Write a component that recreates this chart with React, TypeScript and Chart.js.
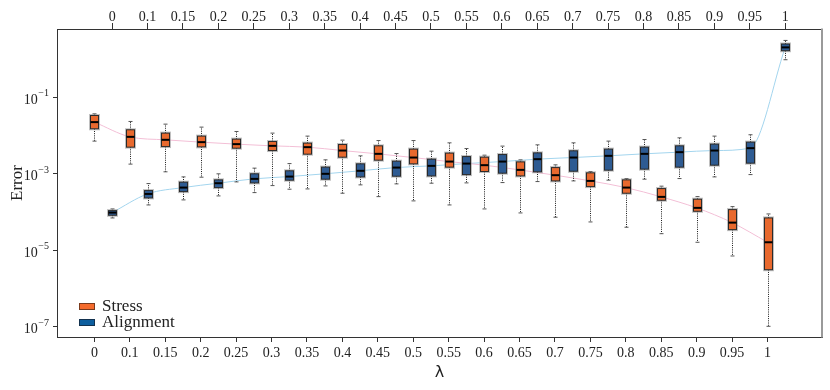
import { useEffect, useRef } from 'react';
import { Chart, registerables } from 'chart.js';

Chart.register(...registerables);

const lambdaLabels = ['0', '0.1', '0.15', '0.2', '0.25', '0.3', '0.35', '0.4', '0.45', '0.5', '0.55', '0.6', '0.65', '0.7', '0.75', '0.8', '0.85', '0.9', '0.95', '1'];

const stressMax = [0.0374, 0.0236, 0.0201, 0.0168, 0.0129, 0.0117, 0.00977, 0.00767, 0.00748, 0.00748, 0.00652, 0.0031, 0.00234, 0.00173, 0.00116, 0.000759, 0.00048, 0.000256, 0.00014, 0.0000902];
const stressQ3 = [0.0338, 0.0143, 0.0117, 0.00977, 0.00815, 0.00705, 0.0064, 0.00589, 0.00544, 0.00446, 0.00351, 0.00275, 0.00207, 0.00147, 0.00107, 0.000701, 0.000415, 0.000219, 0.000117, 0.0000709];
const stressMed = [0.0227, 0.00935, 0.00782, 0.0068, 0.00603, 0.00544, 0.00503, 0.0041, 0.00336, 0.00269, 0.00211, 0.0017, 0.00128, 0.00093, 0.000659, 0.000441, 0.000252, 0.00013, 0.0000535, 0.0000164];
const stressQ1 = [0.0152, 0.00503, 0.00521, 0.00512, 0.00473, 0.0041, 0.0033, 0.00275, 0.0023, 0.00184, 0.00151, 0.00116, 0.000891, 0.000659, 0.000468, 0.000314, 0.000206, 0.000106, 0.0000351, 0.00000314];
const stressMin = [0.00723, 0.00181, 0.00114, 0.000824, 0.000621, 0.000497, 0.000407, 0.000314, 0.000256, 0.000198, 0.000155, 0.000122, 0.0000959, 0.000074, 0.0000557, 0.0000405, 0.0000275, 0.0000164, 0.00000718, 1.04e-7];

const alignMax = [0.000122, 0.000561, 0.000839, 0.00101, 0.00142, 0.00187, 0.00234, 0.00298, 0.00342, 0.00395, 0.00462, 0.00535, 0.00578, 0.00652, 0.00723, 0.00796, 0.00881, 0.00977, 0.0106, 3.1];
const alignQ3 = [0.00011, 0.000368, 0.00061, 0.000701, 0.00101, 0.00121, 0.00151, 0.00184, 0.00216, 0.00244, 0.00285, 0.00322, 0.00356, 0.00403, 0.00446, 0.00503, 0.00544, 0.00603, 0.0068, 2.5];
const alignMed = [0.0000977, 0.000301, 0.000441, 0.000574, 0.000745, 0.000855, 0.00101, 0.00121, 0.00147, 0.00163, 0.00187, 0.00211, 0.00244, 0.00269, 0.00298, 0.00336, 0.00372, 0.0041, 0.00473, 2.04];
const alignQ1 = [0.0000834, 0.000237, 0.000346, 0.000441, 0.000585, 0.000689, 0.000731, 0.000839, 0.000875, 0.000891, 0.000964, 0.00105, 0.00114, 0.00118, 0.00126, 0.00134, 0.00151, 0.0017, 0.00192, 1.67];
const alignMin = [0.0000709, 0.000155, 0.00021, 0.000267, 0.000326, 0.0004, 0.000488, 0.000519, 0.000551, 0.000574, 0.000585, 0.000596, 0.000633, 0.000659, 0.000689, 0.000731, 0.000759, 0.000839, 0.000964, 0.97];

const yTickValues = [1e-7, 1e-5, 1e-3, 1e-1];
const yTickExponents = ['\u22127', '\u22125', '\u22123', '\u22121'];

const SERIF = "'Liberation Serif', 'Times New Roman', serif";
const TEXT = '#222222';
const AXIS = '#333333';

const STRESS_FILL = '#e8692e';
const ALIGN_FILL = '#2e5b92';
const STRESS_LEGEND = '#f56b2c';
const ALIGN_LEGEND = '#0d5e9e';

function drawBoxSeries(ctx: CanvasRenderingContext2D, xScale: any, yScale: any, mins: number[], q1s: number[], meds: number[], q3s: number[], maxs: number[], fill: string) {
  for (let i = 0; i < meds.length; i++) {
    const x = Math.round(xScale.getPixelForValue(i)) + 0.5;
    const yMax = yScale.getPixelForValue(maxs[i]);
    const yQ3 = yScale.getPixelForValue(q3s[i]);
    const yMed = yScale.getPixelForValue(meds[i]);
    const yQ1 = yScale.getPixelForValue(q1s[i]);
    const yMin = yScale.getPixelForValue(mins[i]);
    // whiskers
    ctx.save();
    ctx.strokeStyle = '#1a1a1a';
    ctx.lineWidth = 1;
    ctx.setLineDash([1, 1.2]);
    ctx.beginPath();
    ctx.moveTo(x, yQ3);
    ctx.lineTo(x, yMax);
    ctx.moveTo(x, yQ1);
    ctx.lineTo(x, yMin);
    ctx.stroke();
    ctx.restore();
    // caps
    ctx.save();
    ctx.strokeStyle = '#555555';
    ctx.lineWidth = 1;
    ctx.beginPath();
    ctx.moveTo(x - 2, yMax);
    ctx.lineTo(x + 2, yMax);
    ctx.moveTo(x - 2, yMin);
    ctx.lineTo(x + 2, yMin);
    ctx.stroke();
    ctx.restore();
    // halo + box + median
    const bw = 8;
    const left = x - bw / 2;
    ctx.save();
    ctx.fillStyle = 'rgba(140,140,140,0.55)';
    ctx.fillRect(left - 1.5, yQ3 - 1.5, bw + 3, yQ1 - yQ3 + 3);
    ctx.fillStyle = fill;
    ctx.fillRect(left, yQ3, bw, yQ1 - yQ3);
    ctx.strokeStyle = '#2b2b2b';
    ctx.lineWidth = 1;
    ctx.strokeRect(left, yQ3, bw, yQ1 - yQ3);
    ctx.strokeStyle = '#000000';
    ctx.lineWidth = 2;
    ctx.beginPath();
    ctx.moveTo(left, yMed);
    ctx.lineTo(left + bw, yMed);
    ctx.stroke();
    ctx.restore();
  }
}

const boxPlugin = {
  id: 'boxes',
  afterDatasetsDraw(chart: any) {
    const ctx = chart.ctx as CanvasRenderingContext2D;
    const area = chart.chartArea;
    ctx.save();
    ctx.beginPath();
    ctx.rect(area.left, area.top, area.right - area.left, area.bottom - area.top);
    ctx.clip();
    drawBoxSeries(ctx, chart.scales.x, chart.scales.y, stressMin, stressQ1, stressMed, stressQ3, stressMax, STRESS_FILL);
    drawBoxSeries(ctx, chart.scales.x2, chart.scales.y, alignMin, alignQ1, alignMed, alignQ3, alignMax, ALIGN_FILL);
    ctx.restore();
  },
  afterDraw(chart: any) {
    const ctx = chart.ctx as CanvasRenderingContext2D;
    const area = chart.chartArea;
    const yScale = chart.scales.y;
    // right frame line
    ctx.save();
    ctx.strokeStyle = '#9a9a9a';
    ctx.lineWidth = 2;
    ctx.beginPath();
    ctx.moveTo(area.right, area.top - 0.5);
    ctx.lineTo(area.right, area.bottom + 0.5);
    ctx.stroke();
    ctx.restore();
    // y tick labels with superscripts
    ctx.save();
    ctx.fillStyle = TEXT;
    ctx.textBaseline = 'middle';
    for (let i = 0; i < yTickValues.length; i++) {
      const y = yScale.getPixelForValue(yTickValues[i]);
      const right = yScale.right - 8;
      ctx.font = `10px ${SERIF}`;
      const ew = ctx.measureText(yTickExponents[i]).width;
      ctx.textAlign = 'right';
      ctx.fillText(yTickExponents[i], right, y - 4);
      ctx.font = `14px ${SERIF}`;
      ctx.fillText('10', right - ew - 0.5, y + 2.5);
    }
    ctx.restore();
    // legend
    const items = [
      { label: chart.data.datasets[0].label, color: STRESS_LEGEND, border: '#7a3a1c' },
      { label: chart.data.datasets[1].label, color: ALIGN_LEGEND, border: '#13324f' },
    ];
    ctx.save();
    const lx = area.left + 22;
    let ly = area.bottom - 34;
    ctx.font = `17px ${SERIF}`;
    ctx.textBaseline = 'alphabetic';
    ctx.textAlign = 'left';
    for (const it of items) {
      ctx.fillStyle = it.color;
      ctx.fillRect(lx, ly, 16, 7);
      ctx.strokeStyle = it.border;
      ctx.lineWidth = 1;
      ctx.strokeRect(lx + 0.5, ly + 0.5, 15, 6);
      ctx.fillStyle = TEXT;
      ctx.fillText(it.label, lx + 23, ly + 7.5);
      ly += 16;
    }
    ctx.restore();
  },
};

export default function App() {
  const canvasRef = useRef<HTMLCanvasElement | null>(null);

  useEffect(() => {
    if (!canvasRef.current) return;
    const tickFont = { family: SERIF, size: 14 };
    const chart = new Chart(canvasRef.current, {
      type: 'line',
      data: {
        datasets: [
          {
            label: 'Stress',
            data: stressMed.map((v, i) => ({ x: i, y: v })),
            xAxisID: 'x',
            yAxisID: 'y',
            borderColor: '#f3bfd6',
            borderWidth: 1,
            pointRadius: 0,
            cubicInterpolationMode: 'monotone',
            fill: false,
          },
          {
            label: 'Alignment',
            data: alignMed.map((v, i) => ({ x: i, y: v })),
            xAxisID: 'x2',
            yAxisID: 'y',
            borderColor: '#a3d5ee',
            borderWidth: 1,
            pointRadius: 0,
            cubicInterpolationMode: 'monotone',
            fill: false,
          },
        ],
      },
      options: {
        responsive: true,
        maintainAspectRatio: false,
        animation: false,
        layout: { padding: { left: 0, right: 8, top: 0, bottom: 0 } },
        plugins: { legend: { display: false }, tooltip: { enabled: false } },
        scales: {
          x: {
            type: 'linear',
            position: 'bottom',
            min: -1.056,
            max: 20.537,
            afterBuildTicks: (s: any) => {
              s.ticks = lambdaLabels.map((_, i) => ({ value: i }));
            },
            afterFit: (s: any) => {
              s.height = 53;
            },
            grid: { drawOnChartArea: false, drawTicks: true, tickLength: 5, color: AXIS },
            border: { display: true, color: AXIS, width: 1 },
            ticks: {
              autoSkip: false,
              maxRotation: 0,
              padding: 3,
              color: TEXT,
              font: tickFont,
              callback: (v: any) => lambdaLabels[Math.round(Number(v))] ?? '',
            },
            title: {
              display: true,
              text: '\u03bb',
              color: TEXT,
              font: { family: "'DejaVu Sans', sans-serif", size: 16 },
              padding: { top: 0, bottom: 8 },
            },
          },
          x2: {
            type: 'linear',
            position: 'top',
            min: -1.556,
            max: 20.037,
            afterBuildTicks: (s: any) => {
              s.ticks = lambdaLabels.map((_, i) => ({ value: i }));
            },
            afterFit: (s: any) => {
              s.height = 29;
            },
            grid: { drawOnChartArea: false, drawTicks: true, tickLength: 6, color: AXIS },
            border: { display: true, color: AXIS, width: 1 },
            ticks: {
              autoSkip: false,
              maxRotation: 0,
              padding: -3,
              color: TEXT,
              font: tickFont,
              callback: (v: any) => lambdaLabels[Math.round(Number(v))] ?? '',
            },
          },
          y: {
            type: 'logarithmic',
            position: 'left',
            min: 5.47e-8,
            max: 6.17,
            afterBuildTicks: (s: any) => {
              s.ticks = yTickValues.map((v) => ({ value: v, major: true }));
            },
            afterFit: (s: any) => {
              s.width = 57;
            },
            grid: { drawOnChartArea: false, drawTicks: true, tickLength: 4, color: AXIS },
            border: { display: true, color: AXIS, width: 1 },
            ticks: { display: false },
            title: {
              display: true,
              text: 'Error',
              color: TEXT,
              font: { family: SERIF, size: 17 },
              padding: { top: 7, bottom: 0 },
            },
          },
        },
      } as any,
      plugins: [boxPlugin],
    });
    return () => chart.destroy();
  }, []);

  return (
    <div style={{ position: 'fixed', left: 0, top: 0, width: 830, height: 390, background: '#ffffff' }}>
      <canvas ref={canvasRef} />
    </div>
  );
}
